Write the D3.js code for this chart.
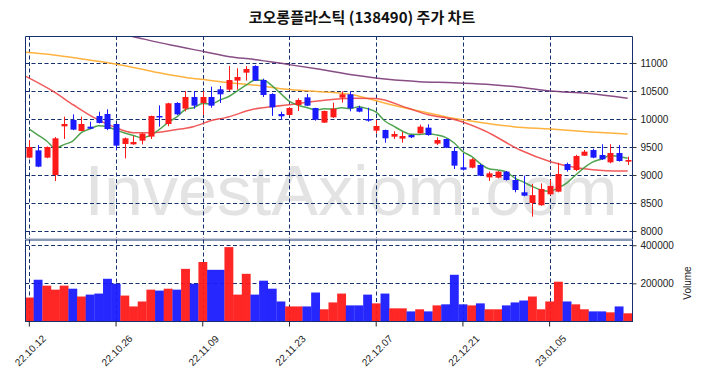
<!DOCTYPE html>
<html><head><meta charset="utf-8">
<script src="https://cdn.jsdelivr.net/npm/d3@7"></script>
<style>body{margin:0;background:#fff}svg{display:block}</style>
</head><body>
<svg id="c" width="704" height="378"></svg>
<script>
const dates = ["22.10.12","22.10.13","22.10.14","22.10.17","22.10.18","22.10.19","22.10.20","22.10.21","22.10.24","22.10.25",
"22.10.26","22.10.27","22.10.28","22.10.31","22.11.01","22.11.02","22.11.03","22.11.04","22.11.07","22.11.08",
"22.11.09","22.11.10","22.11.11","22.11.14","22.11.15","22.11.16","22.11.17","22.11.18","22.11.21","22.11.22",
"22.11.23","22.11.24","22.11.25","22.11.28","22.11.29","22.11.30","22.12.01","22.12.02","22.12.05","22.12.06",
"22.12.07","22.12.08","22.12.09","22.12.12","22.12.13","22.12.14","22.12.15","22.12.16","22.12.19","22.12.20",
"22.12.21","22.12.22","22.12.23","22.12.26","22.12.27","22.12.28","22.12.29","23.01.02","23.01.03","23.01.04",
"23.01.05","23.01.06","23.01.09","23.01.10","23.01.11","23.01.12","23.01.13","23.01.16","23.01.17","23.01.18"];
const tickDates = ["22.10.12","22.10.26","22.11.09","22.11.23","22.12.07","22.12.21","23.01.05"];
const priceTicks = [8000,8500,9000,9500,10000,10500,11000];
const volumeTicks = [200000,400000];

const open  = [9310,9440,9310,9000,9869,9982,9786,9863,10054,10089,9911,9554,9548,9613,9685,10054,9911,10286,10184,10393,
10286,10393,10530,10524,10685,10827,10946,10696,10446,10089,10071,10250,10387,10196,9935,10030,10381,10441,10202,10000,
9792,9804,9684,9649,9714,9744,9845,9560,9643,9429,9137,9131,9179,8958,8952,9060,8911,8691,8500,8460,
8655,8702,9196,9089,9345,9446,9357,9226,9393,9238];
const high  = [9625,9536,9510,9679,10042,10083,10042,9952,10131,10173,9920,9670,9696,9750,10060,10244,10290,10300,10500,10500,
10500,10577,10589,10946,10905,10946,10960,10720,10460,10131,10210,10369,10446,10200,10150,10291,10494,10494,10238,10202,
9982,9810,9780,9768,9720,9899,9905,9673,9650,9488,9381,9300,9200,9060,9070,9070,8980,8988,8840,8850,
8911,9220,9220,9360,9446,9470,9548,9548,9536,9327];
const low   = [9300,9140,9300,8893,9643,9800,9780,9820,9920,9800,9447,9297,9540,9548,9643,9863,9870,10070,10137,10184,
10071,10202,10286,10500,10524,10685,10680,10393,10054,9988,10060,10143,10230,9970,9930,10020,10292,10137,10120,9952,
9744,9577,9643,9577,9660,9740,9700,9536,9480,9107,9080,9120,8980,8893,8940,8900,8691,8620,8256,8450,
8640,8690,9060,9070,9340,9300,9270,9210,9240,9179];
const close = [9500,9149,9500,9655,9911,9810,9911,9827,9929,9821,9524,9655,9589,9738,10054,10036,10280,10083,10393,10238,
10393,10238,10441,10696,10750,10893,10685,10429,10208,10048,10196,10339,10238,9988,10143,10184,10441,10191,10131,9970,
9875,9655,9732,9696,9673,9863,9714,9625,9488,9167,9095,9280,8988,9030,9060,8911,8732,8631,8640,8750,
8804,9018,9089,9339,9417,9310,9280,9393,9250,9268];
const volume = [125800,219000,188000,167000,188000,172000,131000,141000,146500,224000,198000,136000,79000,105000,167000,162000,172000,167000,276000,198000,
312000,271000,271000,390000,141000,250000,141000,214000,172000,105000,79000,79000,79000,152000,64000,100000,146500,84500,84500,141000,
95000,146500,69000,69000,53000,64000,53000,84500,90000,245000,90000,84500,95000,64000,64000,84500,100000,110000,131000,64000,
105000,208600,105000,90000,64000,53000,53000,48000,79000,43000];

// moving averages (index, value)
const ma5Idx = [0,1,2,3,4,5,6,7,8,9,10,11,12,13,14,15,16,17,18,19,20,21,22,23,24,25,26,27,28,29,30,31,32,33,34,
35,36,37,38,39,40,41,42,43,44,45,46,47,48,49,50,51,52,53,54,55,56,57,58,59,60,61,62,63,64,65,66,67,68,69];
const ma5 = [9821,9714,9607,9482,9543,9605,9757,9823,9878,9860,9802,9751,9704,9665,9712,9814,9939,10038,10169,10206,
10277,10269,10341,10401,10504,10604,10693,10691,10593,10453,10313,10244,10206,10162,10181,10178,10199,10189,10218,10183,
10122,9964,9873,9786,9726,9724,9736,9714,9673,9571,9418,9331,9204,9112,9091,9054,8944,8873,8795,8733,
8711,8769,8860,9000,9133,9235,9287,9348,9330,9300];
const ma20Idx = [-0.4,2.8,5.1,7.4,9.7,12,14.3,16.6,18.9,21.2,22.5,25.8,29.7,33.5,37.4,39.9,43.7,46,48.9,52.5,56.6,60.1,63.5,66.5,69];
const ma20 = [10760,10488,10250,10030,9863,9756,9756,9804,9863,9982,10020,10173,10250,10327,10369,10365,10191,10075,9994,9790,9446,9238,9119,9077,9071];
const ma60Idx = [-0.4,2.8,6.3,10.1,14.3,18.2,20.5,22.5,25.8,29.7,33.5,37.4,40.1,43.5,45.5,48.9,52.7,55.8,60.1,64.3,69];
const ma60 = [11190,11143,11066,10977,10845,10738,10696,10655,10607,10530,10488,10429,10321,10191,10125,10012,9923,9863,9821,9774,9732];
const ma120Idx = [10,12,16.3,20.2,23.1,25.8,29.7,33.5,37.4,41.3,45,48.9,52.7,56.6,60.1,64.3,69];
const ma120 = [11540,11470,11321,11202,11113,11066,10977,10887,10786,10709,10667,10649,10619,10566,10500,10459,10369];

const svg = d3.select("#c");
const L = 25, R = 632, PT = 36, PB = 238, VT = 239.5, VB = 321.5;
const navy = "#15306e";
const UP = "#ff1a1a", DOWN = "#1a1aff";

const x = d3.scaleBand().domain(d3.range(dates.length)).range([L, R]).padding(0);
const bw = x.bandwidth();
const cx = i => L + bw * (i + 0.5);
const y = d3.scaleLinear().domain([7875, 11482]).range([PB, PT]);
const yv = d3.scaleLinear().domain([0, 430000]).range([VB, VT]);

// title
svg.append("text").attr("x", 362).attr("y", 23).attr("text-anchor", "middle")
  .attr("font-family", "'Noto Sans CJK KR', sans-serif").attr("font-weight", "bold").attr("font-size", 15)
  .attr("fill", "#111").text("코오롱플라스틱 (138490) 주가 차트");

// watermark
svg.append("text").attr("x", 351).attr("y", 215).attr("text-anchor", "middle")
  .attr("font-family", "'Liberation Sans', Arial, sans-serif").attr("font-size", 70)
  .attr("fill", "#e3e3e3").text("InvestAxiom.com");

// grids
const grid = svg.append("g").attr("stroke", navy).attr("stroke-width", 1).attr("stroke-dasharray", "4,2.5");
priceTicks.forEach(t => grid.append("line").attr("x1", L).attr("x2", R).attr("y1", Math.round(y(t)) + 0.5).attr("y2", Math.round(y(t)) + 0.5));
volumeTicks.forEach(t => grid.append("line").attr("x1", L).attr("x2", R).attr("y1", Math.round(yv(t)) + 0.5).attr("y2", Math.round(yv(t)) + 0.5));
tickDates.forEach(d => {
  const xx = Math.round(cx(dates.indexOf(d))) + 0.5;
  grid.append("line").attr("x1", xx).attr("x2", xx).attr("y1", PT).attr("y2", PB);
  grid.append("line").attr("x1", xx).attr("x2", xx).attr("y1", VT).attr("y2", VB);
});

// clip
svg.append("clipPath").attr("id", "pc").append("rect").attr("x", L).attr("y", PT).attr("width", R - L).attr("height", PB - PT);
const pg = svg.append("g").attr("clip-path", "url(#pc)");

// MA lines
function maLine(idx, vals, color, w) {
  const pts = idx.map((k, j) => [L + bw * (k + 0.5), y(vals[j])]);
  pg.append("path").attr("d", d3.line().curve(d3.curveMonotoneX)(pts))
    .attr("fill", "none").attr("stroke", color).attr("stroke-width", w).attr("stroke-opacity", 0.9);
}
maLine(ma120Idx, ma120, "#7b3a78", 1.5);
maLine(ma60Idx, ma60, "#ffaa2a", 1.5);
maLine(ma20Idx, ma20, "#f04848", 1.5);
maLine(ma5Idx, ma5, "#3c9a3c", 1.5);

// candles
const cg = pg.append("g");
dates.forEach((d, i) => {
  const col = close[i] >= open[i] ? UP : DOWN;
  const xx = Math.round(cx(i));
  cg.append("line").attr("x1", xx + 0.5).attr("x2", xx + 0.5).attr("y1", y(high[i])).attr("y2", y(low[i]))
    .attr("stroke", col).attr("stroke-width", 1);
  const top = y(Math.max(open[i], close[i])), bot = y(Math.min(open[i], close[i]));
  cg.append("rect").attr("x", xx - 2.5).attr("y", top).attr("width", 6).attr("height", Math.max(1.5, bot - top)).attr("fill", col);
});

// volume bars
const vg = svg.append("g");
dates.forEach((d, i) => {
  const col = close[i] >= open[i] ? UP : DOWN;
  vg.append("rect").attr("x", x(i)).attr("y", yv(volume[i])).attr("width", bw + 0.2).attr("height", VB - yv(volume[i]))
    .attr("fill", col).attr("fill-opacity", 0.95);
});

// panel borders
svg.append("line").attr("x1", L).attr("x2", R).attr("y1", PB + 0.5).attr("y2", PB + 0.5).attr("stroke", "#d0d0d8").attr("stroke-width", 1);
svg.append("path").attr("d", `M${L + 0.5},${PB + 1}V${PT + 0.5}H${R + 0.5}V${PB + 1}`)
  .attr("fill", "none").attr("stroke", navy).attr("stroke-width", 1);
svg.append("rect").attr("x", L + 0.5).attr("y", VT + 0.5).attr("width", R - L).attr("height", VB - VT - 0.5)
  .attr("fill", "none").attr("stroke", navy).attr("stroke-width", 1);

// right axes
const fontAx = "'Liberation Sans', Arial, sans-serif";
const ax1 = svg.append("g").attr("transform", `translate(${R + 0.5},0)`)
  .call(d3.axisRight(y).tickValues(priceTicks).tickSize(4).tickPadding(4).tickFormat(d3.format("d")));
const ax2 = svg.append("g").attr("transform", `translate(${R + 0.5},0)`)
  .call(d3.axisRight(yv).tickValues(volumeTicks).tickSize(4).tickPadding(4).tickFormat(d3.format("d")));
[ax1, ax2].forEach(a => {
  a.select(".domain").remove();
  a.selectAll("line").attr("stroke", "#333");
  a.selectAll("text").attr("font-family", fontAx).attr("font-size", 10).attr("fill", "#222");
});
svg.append("text").attr("transform", "translate(691,283) rotate(-90)").attr("text-anchor", "middle")
  .attr("font-family", fontAx).attr("font-size", 10).attr("fill", "#222").text("Volume");

// bottom axis
const xb = svg.append("g").attr("transform", `translate(0,${VB})`)
  .call(d3.axisBottom(x).tickValues(tickDates.map(d => dates.indexOf(d))).tickSize(5).tickFormat(i => dates[i]));
xb.select(".domain").remove();
xb.selectAll("line").attr("stroke", "#222");
xb.selectAll("text").attr("font-family", fontAx).attr("font-size", 10).attr("fill", "#222")
  .attr("text-anchor", "middle").attr("dy", null).attr("y", null)
  .attr("transform", "translate(1,29) rotate(-45)").attr("dominant-baseline", "central");
</script>
</body></html>
